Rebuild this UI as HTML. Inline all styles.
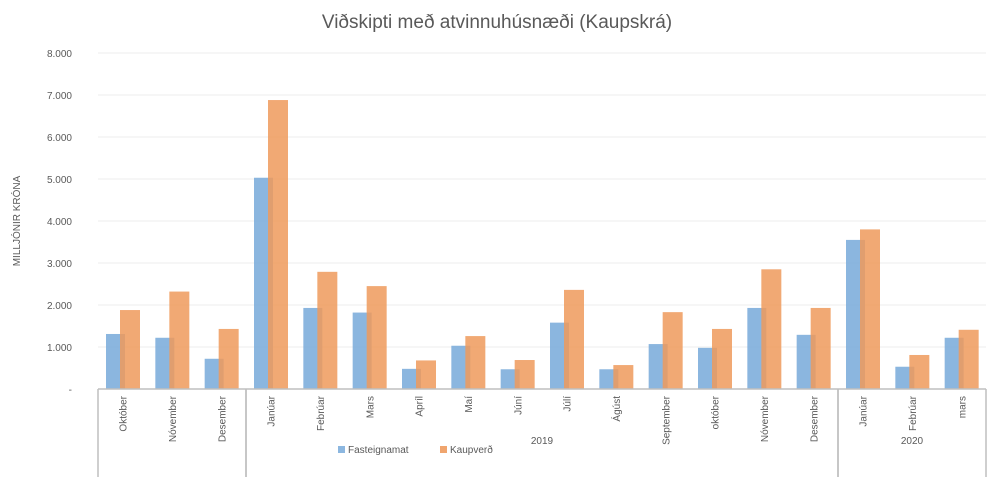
<!DOCTYPE html>
<html><head><meta charset="utf-8"><style>
body{margin:0;background:#fff;font-family:"Liberation Sans",sans-serif}
svg text{font-family:"Liberation Sans",sans-serif;fill:#595959}
</style></head><body>
<svg width="994" height="493">
<text x="497" y="28" text-anchor="middle" font-size="19">Viðskipti með atvinnuhúsnæði (Kaupskrá)</text>
<text transform="translate(20,221) rotate(-90)" text-anchor="middle" font-size="10">MILLJÓNIR KRÓNA</text>
<g id="grid"></g><g id="bars"></g><g id="axis"></g>
<g>
<rect x="338" y="446" width="7" height="7" fill="#8cb7e0"/>
<text x="348" y="453" font-size="10">Fasteignamat</text>
<rect x="440" y="446" width="7" height="7" fill="#f0a56e"/>
<text x="450" y="453" font-size="10">Kaupverð</text>
</g>
</svg>
<script>
const categories=["Október","Nóvember","Desember","Janúar","Febrúar","Mars","Apríl","Maí","Júní","Júlí","Ágúst","September","október","Nóvember","Desember","Janúar","Febrúar","mars"];
const fasteignamat=[1310,1220,720,5030,1930,1820,480,1030,470,1580,470,1070,980,1930,1290,3550,530,1220];
const kaupverd=[1880,2320,1430,6880,2790,2450,680,1260,690,2360,570,1830,1430,2850,1930,3800,810,1410];
const yTicks=[0,1000,2000,3000,4000,5000,6000,7000,8000];
const yTickLabels=["-","1.000","2.000","3.000","4.000","5.000","6.000","7.000","8.000"];
const groups=[{label:"",start:0,end:3},{label:"2019",start:3,end:15},{label:"2020",start:15,end:18}];
const NS="http://www.w3.org/2000/svg";
const x0=98,x1=986,yb=389,yt=53,ymax=8000;
const cw=(x1-x0)/categories.length;
const y=v=>yb-(v/ymax)*(yb-yt);
const xc=i=>x0+i*cw;
function mk(t,a,p){const e=document.createElementNS(NS,t);for(const k in a)e.setAttribute(k,a[k]);p.appendChild(e);return e;}
const grid=document.getElementById('grid'),bars=document.getElementById('bars'),axis=document.getElementById('axis');
yTicks.forEach((v,i)=>{
 if(v>0){const l=mk('line',{x1:x0,x2:x1,y1:y(v),y2:y(v),stroke:'#ececec'},grid);
 
 }
 const t=mk('text',{x:72,y:y(v)+4,'text-anchor':'end','font-size':10},grid);t.textContent=yTickLabels[i];
 
 
});
categories.forEach((c,i)=>{
 const b=mk('rect',{x:xc(i)+8,y:y(fasteignamat[i]),width:19,height:yb-y(fasteignamat[i]),fill:'#7eaedc','fill-opacity':0.9},bars);
 
 
 const o=mk('rect',{x:xc(i)+22,y:y(kaupverd[i]),width:20,height:yb-y(kaupverd[i]),fill:'#ee9a5c','fill-opacity':0.85},bars);
 
 
 const cx=xc(i)+cw/2+4;
 const t=mk('text',{transform:`translate(${cx},396) rotate(-90)`,'text-anchor':'end','font-size':10},axis);t.textContent=c;
 
 
});
const ax=mk('line',{x1:x0,x2:x1,y1:yb,y2:yb,stroke:'#bfbfbf','stroke-width':1.5},axis);


groups.forEach(g=>{
 [g.start,g.end].forEach(k=>{const l=mk('line',{x1:xc(k),x2:xc(k),y1:yb,y2:477,stroke:'#bfbfbf','stroke-width':1.5},axis);
 
 });
 if(g.label){const t=mk('text',{x:(xc(g.start)+xc(g.end))/2,y:444,'text-anchor':'middle','font-size':10},axis);t.textContent=g.label;
 
 }
});
</script>
</body></html>
